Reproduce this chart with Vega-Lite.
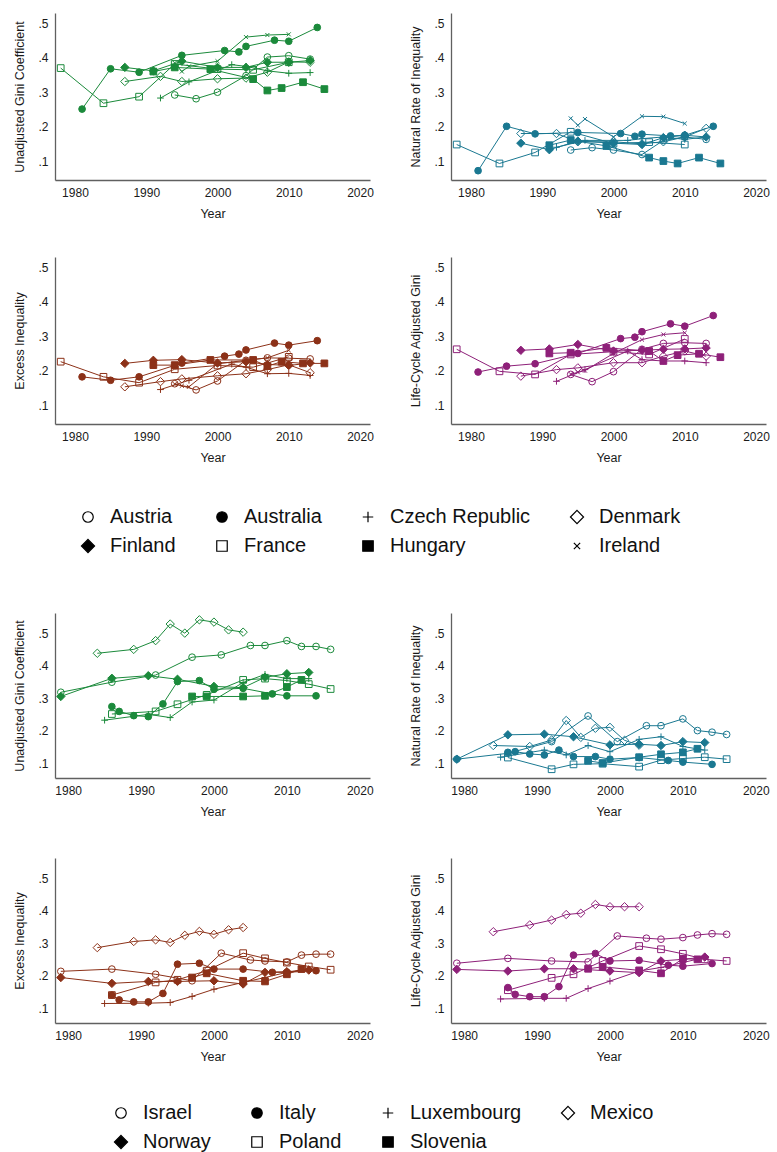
{
"$schema":"https://vega.github.io/schema/vega-lite/v6.json",
"padding":{"left":13,"top":13,"right":4,"bottom":4},
"background":"white",
"datasets":{
"g1":[
{"c":"Austria","yr":1994,"u":0.292,"n":0.132,"e":0.162,"l":0.189},
{"c":"Austria","yr":1997,"u":0.281,"n":0.139,"e":0.144,"l":0.168},
{"c":"Austria","yr":2000,"u":0.300,"n":0.132,"e":0.170,"l":0.197},
{"c":"Austria","yr":2004,"u":0.348,"n":0.119,"e":0.230,"l":0.262},
{"c":"Austria","yr":2007,"u":0.402,"n":0.160,"e":0.237,"l":0.279},
{"c":"Austria","yr":2010,"u":0.406,"n":0.170,"e":0.236,"l":0.281},
{"c":"Austria","yr":2013,"u":0.396,"n":0.163,"e":0.234,"l":0.279},
{"c":"Australia","yr":1981,"u":0.251,"n":0.072,"e":0.182,"l":0.196},
{"c":"Australia","yr":1985,"u":0.368,"n":0.201,"e":0.172,"l":0.213},
{"c":"Australia","yr":1989,"u":0.358,"n":0.179,"e":0.182,"l":0.220},
{"c":"Australia","yr":1995,"u":0.407,"n":0.183,"e":0.222,"l":0.250},
{"c":"Australia","yr":2001,"u":0.421,"n":0.180,"e":0.242,"l":0.293},
{"c":"Australia","yr":2003,"u":0.417,"n":0.172,"e":0.248,"l":0.297},
{"c":"Australia","yr":2004,"u":0.433,"n":0.178,"e":0.260,"l":0.313},
{"c":"Australia","yr":2008,"u":0.451,"n":0.173,"e":0.280,"l":0.336},
{"c":"Australia","yr":2010,"u":0.448,"n":0.175,"e":0.274,"l":0.329},
{"c":"Australia","yr":2014,"u":0.488,"n":0.201,"e":0.287,"l":0.360},
{"c":"Czech Republic","yr":1992,"u":0.283,"n":0.140,"e":0.145,"l":0.169},
{"c":"Czech Republic","yr":1996,"u":0.330,"n":0.160,"e":0.172,"l":0.203},
{"c":"Czech Republic","yr":2002,"u":0.380,"n":0.160,"e":0.219,"l":0.257},
{"c":"Czech Republic","yr":2004,"u":0.375,"n":0.165,"e":0.210,"l":0.232},
{"c":"Czech Republic","yr":2007,"u":0.362,"n":0.170,"e":0.191,"l":0.228},
{"c":"Czech Republic","yr":2010,"u":0.355,"n":0.163,"e":0.192,"l":0.228},
{"c":"Czech Republic","yr":2013,"u":0.357,"n":0.170,"e":0.186,"l":0.223},
{"c":"Denmark","yr":1987,"u":0.331,"n":0.180,"e":0.153,"l":0.184},
{"c":"Denmark","yr":1992,"u":0.346,"n":0.180,"e":0.168,"l":0.203},
{"c":"Denmark","yr":1995,"u":0.331,"n":0.156,"e":0.176,"l":0.208},
{"c":"Denmark","yr":2000,"u":0.339,"n":0.156,"e":0.185,"l":0.223},
{"c":"Denmark","yr":2004,"u":0.341,"n":0.150,"e":0.191,"l":0.223},
{"c":"Denmark","yr":2007,"u":0.358,"n":0.156,"e":0.203,"l":0.242},
{"c":"Denmark","yr":2010,"u":0.388,"n":0.170,"e":0.217,"l":0.257},
{"c":"Denmark","yr":2013,"u":0.387,"n":0.195,"e":0.194,"l":0.242},
{"c":"Finland","yr":1987,"u":0.372,"n":0.152,"e":0.221,"l":0.259},
{"c":"Finland","yr":1991,"u":0.362,"n":0.133,"e":0.230,"l":0.263},
{"c":"Finland","yr":1995,"u":0.390,"n":0.158,"e":0.232,"l":0.276},
{"c":"Finland","yr":2000,"u":0.372,"n":0.152,"e":0.222,"l":0.257},
{"c":"Finland","yr":2004,"u":0.372,"n":0.148,"e":0.226,"l":0.259},
{"c":"Finland","yr":2007,"u":0.387,"n":0.168,"e":0.218,"l":0.262},
{"c":"Finland","yr":2010,"u":0.387,"n":0.175,"e":0.215,"l":0.263},
{"c":"Finland","yr":2013,"u":0.392,"n":0.170,"e":0.222,"l":0.266},
{"c":"France","yr":1978,"u":0.370,"n":0.148,"e":0.226,"l":0.262},
{"c":"France","yr":1984,"u":0.268,"n":0.093,"e":0.182,"l":0.198},
{"c":"France","yr":1989,"u":0.287,"n":0.125,"e":0.165,"l":0.189},
{"c":"France","yr":1994,"u":0.382,"n":0.185,"e":0.204,"l":0.247},
{"c":"France","yr":2000,"u":0.367,"n":0.151,"e":0.215,"l":0.255},
{"c":"France","yr":2005,"u":0.365,"n":0.155,"e":0.210,"l":0.247},
{"c":"France","yr":2010,"u":0.387,"n":0.148,"e":0.240,"l":0.292},
{"c":"Hungary","yr":1991,"u":0.360,"n":0.146,"e":0.216,"l":0.250},
{"c":"Hungary","yr":1994,"u":0.372,"n":0.161,"e":0.216,"l":0.252},
{"c":"Hungary","yr":1999,"u":0.367,"n":0.144,"e":0.231,"l":0.266},
{"c":"Hungary","yr":2005,"u":0.338,"n":0.110,"e":0.231,"l":0.257},
{"c":"Hungary","yr":2007,"u":0.305,"n":0.100,"e":0.213,"l":0.228},
{"c":"Hungary","yr":2009,"u":0.312,"n":0.093,"e":0.226,"l":0.245},
{"c":"Hungary","yr":2012,"u":0.329,"n":0.110,"e":0.221,"l":0.249},
{"c":"Hungary","yr":2015,"u":0.309,"n":0.093,"e":0.221,"l":0.239},
{"c":"Ireland","yr":1994,"u":0.385,"n":0.224,"e":0.161,"l":0.190},
{"c":"Ireland","yr":1995,"u":0.360,"n":0.204,"e":0.156,"l":0.195},
{"c":"Ireland","yr":1996,"u":0.375,"n":0.222,"e":0.153,"l":0.200},
{"c":"Ireland","yr":2000,"u":0.390,"n":0.170,"e":0.220,"l":0.250},
{"c":"Ireland","yr":2004,"u":0.460,"n":0.230,"e":0.230,"l":0.290},
{"c":"Ireland","yr":2007,"u":0.466,"n":0.229,"e":0.237,"l":0.305},
{"c":"Ireland","yr":2010,"u":0.468,"n":0.209,"e":0.259,"l":0.310}
],
"g2":[
{"c":"Israel","yr":1979,"u":0.318,"n":0.112,"e":0.213,"l":0.238},
{"c":"Israel","yr":1986,"u":0.349,"n":0.130,"e":0.220,"l":0.253},
{"c":"Israel","yr":1992,"u":0.371,"n":0.166,"e":0.204,"l":0.245},
{"c":"Israel","yr":1997,"u":0.426,"n":0.245,"e":0.184,"l":0.242},
{"c":"Israel","yr":2001,"u":0.433,"n":0.166,"e":0.269,"l":0.322},
{"c":"Israel","yr":2005,"u":0.462,"n":0.215,"e":0.248,"l":0.315},
{"c":"Israel","yr":2007,"u":0.462,"n":0.215,"e":0.245,"l":0.312},
{"c":"Israel","yr":2010,"u":0.477,"n":0.236,"e":0.242,"l":0.317},
{"c":"Israel","yr":2012,"u":0.459,"n":0.200,"e":0.263,"l":0.325},
{"c":"Israel","yr":2014,"u":0.459,"n":0.195,"e":0.266,"l":0.329},
{"c":"Israel","yr":2016,"u":0.450,"n":0.188,"e":0.266,"l":0.327},
{"c":"Italy","yr":1986,"u":0.274,"n":0.133,"e":0.140,"l":0.163},
{"c":"Italy","yr":1987,"u":0.259,"n":0.135,"e":0.125,"l":0.142},
{"c":"Italy","yr":1989,"u":0.246,"n":0.128,"e":0.119,"l":0.135},
{"c":"Italy","yr":1991,"u":0.243,"n":0.125,"e":0.119,"l":0.135},
{"c":"Italy","yr":1993,"u":0.282,"n":0.140,"e":0.145,"l":0.166},
{"c":"Italy","yr":1995,"u":0.351,"n":0.120,"e":0.235,"l":0.263},
{"c":"Italy","yr":1998,"u":0.354,"n":0.120,"e":0.238,"l":0.268},
{"c":"Italy","yr":2000,"u":0.327,"n":0.112,"e":0.220,"l":0.245},
{"c":"Italy","yr":2004,"u":0.330,"n":0.117,"e":0.220,"l":0.247},
{"c":"Italy","yr":2008,"u":0.313,"n":0.108,"e":0.210,"l":0.232},
{"c":"Italy","yr":2010,"u":0.307,"n":0.103,"e":0.210,"l":0.229},
{"c":"Italy","yr":2014,"u":0.307,"n":0.096,"e":0.215,"l":0.237},
{"c":"Luxembourg","yr":1985,"u":0.232,"n":0.118,"e":0.114,"l":0.128},
{"c":"Luxembourg","yr":1991,"u":0.250,"n":0.140,"e":0.115,"l":0.130},
{"c":"Luxembourg","yr":1994,"u":0.240,"n":0.125,"e":0.117,"l":0.130},
{"c":"Luxembourg","yr":1997,"u":0.288,"n":0.154,"e":0.136,"l":0.160},
{"c":"Luxembourg","yr":2000,"u":0.294,"n":0.135,"e":0.158,"l":0.183},
{"c":"Luxembourg","yr":2004,"u":0.348,"n":0.173,"e":0.179,"l":0.214},
{"c":"Luxembourg","yr":2007,"u":0.373,"n":0.181,"e":0.194,"l":0.225},
{"c":"Luxembourg","yr":2010,"u":0.360,"n":0.151,"e":0.210,"l":0.240},
{"c":"Luxembourg","yr":2013,"u":0.360,"n":0.140,"e":0.220,"l":0.256},
{"c":"Mexico","yr":1984,"u":0.438,"n":0.154,"e":0.286,"l":0.335},
{"c":"Mexico","yr":1989,"u":0.450,"n":0.151,"e":0.305,"l":0.356},
{"c":"Mexico","yr":1992,"u":0.477,"n":0.171,"e":0.310,"l":0.371},
{"c":"Mexico","yr":1994,"u":0.528,"n":0.231,"e":0.302,"l":0.388},
{"c":"Mexico","yr":1996,"u":0.500,"n":0.179,"e":0.324,"l":0.392},
{"c":"Mexico","yr":1998,"u":0.541,"n":0.207,"e":0.336,"l":0.419},
{"c":"Mexico","yr":2000,"u":0.534,"n":0.210,"e":0.327,"l":0.412},
{"c":"Mexico","yr":2002,"u":0.510,"n":0.170,"e":0.341,"l":0.412},
{"c":"Mexico","yr":2004,"u":0.503,"n":0.155,"e":0.348,"l":0.412},
{"c":"Norway","yr":1979,"u":0.305,"n":0.112,"e":0.194,"l":0.219},
{"c":"Norway","yr":1986,"u":0.361,"n":0.187,"e":0.176,"l":0.214},
{"c":"Norway","yr":1991,"u":0.369,"n":0.189,"e":0.182,"l":0.221},
{"c":"Norway","yr":1995,"u":0.358,"n":0.181,"e":0.182,"l":0.221},
{"c":"Norway","yr":2000,"u":0.336,"n":0.156,"e":0.184,"l":0.214},
{"c":"Norway","yr":2004,"u":0.332,"n":0.158,"e":0.174,"l":0.209},
{"c":"Norway","yr":2007,"u":0.364,"n":0.154,"e":0.210,"l":0.245},
{"c":"Norway","yr":2010,"u":0.375,"n":0.166,"e":0.212,"l":0.250},
{"c":"Norway","yr":2013,"u":0.379,"n":0.163,"e":0.217,"l":0.257},
{"c":"Poland","yr":1986,"u":0.251,"n":0.117,"e":0.140,"l":0.155},
{"c":"Poland","yr":1992,"u":0.259,"n":0.081,"e":0.179,"l":0.193},
{"c":"Poland","yr":1995,"u":0.281,"n":0.096,"e":0.187,"l":0.204},
{"c":"Poland","yr":1999,"u":0.310,"n":0.098,"e":0.215,"l":0.245},
{"c":"Poland","yr":2004,"u":0.356,"n":0.089,"e":0.269,"l":0.291},
{"c":"Poland","yr":2007,"u":0.360,"n":0.109,"e":0.253,"l":0.281},
{"c":"Poland","yr":2010,"u":0.354,"n":0.114,"e":0.240,"l":0.267},
{"c":"Poland","yr":2013,"u":0.343,"n":0.118,"e":0.228,"l":0.250},
{"c":"Poland","yr":2016,"u":0.328,"n":0.112,"e":0.218,"l":0.245},
{"c":"Slovenia","yr":1997,"u":0.305,"n":0.107,"e":0.194,"l":0.221},
{"c":"Slovenia","yr":1999,"u":0.305,"n":0.100,"e":0.207,"l":0.227},
{"c":"Slovenia","yr":2004,"u":0.305,"n":0.118,"e":0.184,"l":0.216},
{"c":"Slovenia","yr":2007,"u":0.307,"n":0.127,"e":0.182,"l":0.207},
{"c":"Slovenia","yr":2010,"u":0.334,"n":0.133,"e":0.204,"l":0.252},
{"c":"Slovenia","yr":2012,"u":0.356,"n":0.144,"e":0.220,"l":0.250}
]},
"vconcat":[
{"vconcat":[
 {"hconcat":[
  {"width":315,"height":167,"data":{"name":"g1"},
   "encoding":{"x":{"field":"yr","type":"quantitative","scale":{"domain":[1977.2,2021.4],"nice":false,"zero":false},"axis":{"values":[1980,1990,2000,2010,2020],"format":"d","title":"Year","labelFlush":false}},
     "y":{"field":"u","type":"quantitative","scale":{"domain":[0.045,0.53],"nice":false,"zero":false},"axis":{"values":[0.1,0.2,0.3,0.4,0.5],"labelExpr":"replace(format(datum.value,'.1f'),'0.','.')","title":"Unadjusted Gini Coefficient"}}},
   "layer":[
    {"mark":{"type":"point","filled":true,"size":45,"strokeWidth":1.2,"opacity":0},
     "encoding":{"shape":{"field":"c","type":"nominal","scale":{"domain":["Austria","Australia","Czech Republic","Denmark","Finland","France","Hungary","Ireland"],"range":["circle","circle","M-1,0L1,0M0,-1L0,1","M0,-1.25L1.25,0L0,1.25L-1.25,0Z","M0,-1.25L1.25,0L0,1.25L-1.25,0Z","square","square","M-0.6,-0.6L0.6,0.6M-0.6,0.6L0.6,-0.6"]},
       "legend":{"title":null,"orient":"none","direction":"horizontal","legendX":23,"legendY":494,"columns":4,"symbolStrokeWidth":1.2,"symbolOpacity":1,"symbolSize":110}},
      "fill":{"field":"c","type":"nominal","scale":{"domain":["Austria","Australia","Czech Republic","Denmark","Finland","France","Hungary","Ireland"],"range":["transparent","black","transparent","transparent","black","transparent","black","transparent"]},
       "legend":{"title":null,"orient":"none","direction":"horizontal","legendX":23,"legendY":494,"columns":4,"symbolStrokeWidth":1.2,"symbolOpacity":1,"symbolSize":110}},
      "stroke":{"field":"c","type":"nominal","scale":{"domain":["Austria","Australia","Czech Republic","Denmark","Finland","France","Hungary","Ireland"],"range":["black","black","black","black","black","black","black","black"]},
       "legend":{"title":null,"orient":"none","direction":"horizontal","legendX":23,"legendY":494,"columns":4,"symbolStrokeWidth":1.2,"symbolOpacity":1,"symbolSize":110}}}},
    {"mark":{"type":"line","color":"#1b8a3b","strokeWidth":1},"encoding":{"detail":{"field":"c","type":"nominal"}}},
    {"mark":{"type":"point","filled":true,"size":45,"stroke":"#1b8a3b","strokeWidth":1,"opacity":1},
     "encoding":{"shape":{"field":"c","type":"nominal","scale":{"domain":["Austria","Australia","Czech Republic","Denmark","Finland","France","Hungary","Ireland"],"range":["circle","circle","M-1,0L1,0M0,-1L0,1","M0,-1.25L1.25,0L0,1.25L-1.25,0Z","M0,-1.25L1.25,0L0,1.25L-1.25,0Z","square","square","M-0.6,-0.6L0.6,0.6M-0.6,0.6L0.6,-0.6"]},"legend":null},
      "fill":{"condition":{"test":"indexof(['Australia','Finland','Hungary','Italy','Norway','Slovenia'], datum.c) >= 0","value":"#1b8a3b"},"value":"transparent"}}}
   ]},
  {"width":315,"height":167,"data":{"name":"g1"},
   "encoding":{"x":{"field":"yr","type":"quantitative","scale":{"domain":[1977.2,2021.4],"nice":false,"zero":false},"axis":{"values":[1980,1990,2000,2010,2020],"format":"d","title":"Year","labelFlush":false}},
     "y":{"field":"n","type":"quantitative","scale":{"domain":[0.045,0.53],"nice":false,"zero":false},"axis":{"values":[0.1,0.2,0.3,0.4,0.5],"labelExpr":"replace(format(datum.value,'.1f'),'0.','.')","title":"Natural Rate of Inequality"}}},
   "layer":[
    {"mark":{"type":"line","color":"#1a7891","strokeWidth":1},"encoding":{"detail":{"field":"c","type":"nominal"}}},
    {"mark":{"type":"point","filled":true,"size":45,"stroke":"#1a7891","strokeWidth":1,"opacity":1},
     "encoding":{"shape":{"field":"c","type":"nominal","scale":{"domain":["Austria","Australia","Czech Republic","Denmark","Finland","France","Hungary","Ireland"],"range":["circle","circle","M-1,0L1,0M0,-1L0,1","M0,-1.25L1.25,0L0,1.25L-1.25,0Z","M0,-1.25L1.25,0L0,1.25L-1.25,0Z","square","square","M-0.6,-0.6L0.6,0.6M-0.6,0.6L0.6,-0.6"]},"legend":null},
      "fill":{"condition":{"test":"indexof(['Australia','Finland','Hungary','Italy','Norway','Slovenia'], datum.c) >= 0","value":"#1a7891"},"value":"transparent"}}}
   ]}
 ],"spacing":35},
 {"hconcat":[
  {"width":315,"height":167,"data":{"name":"g1"},
   "encoding":{"x":{"field":"yr","type":"quantitative","scale":{"domain":[1977.2,2021.4],"nice":false,"zero":false},"axis":{"values":[1980,1990,2000,2010,2020],"format":"d","title":"Year","labelFlush":false}},
     "y":{"field":"e","type":"quantitative","scale":{"domain":[0.045,0.53],"nice":false,"zero":false},"axis":{"values":[0.1,0.2,0.3,0.4,0.5],"labelExpr":"replace(format(datum.value,'.1f'),'0.','.')","title":"Excess Inequality"}}},
   "layer":[
    {"mark":{"type":"line","color":"#8c3118","strokeWidth":1},"encoding":{"detail":{"field":"c","type":"nominal"}}},
    {"mark":{"type":"point","filled":true,"size":45,"stroke":"#8c3118","strokeWidth":1,"opacity":1},
     "encoding":{"shape":{"field":"c","type":"nominal","scale":{"domain":["Austria","Australia","Czech Republic","Denmark","Finland","France","Hungary","Ireland"],"range":["circle","circle","M-1,0L1,0M0,-1L0,1","M0,-1.25L1.25,0L0,1.25L-1.25,0Z","M0,-1.25L1.25,0L0,1.25L-1.25,0Z","square","square","M-0.6,-0.6L0.6,0.6M-0.6,0.6L0.6,-0.6"]},"legend":null},
      "fill":{"condition":{"test":"indexof(['Australia','Finland','Hungary','Italy','Norway','Slovenia'], datum.c) >= 0","value":"#8c3118"},"value":"transparent"}}}
   ]},
  {"width":315,"height":167,"data":{"name":"g1"},
   "encoding":{"x":{"field":"yr","type":"quantitative","scale":{"domain":[1977.2,2021.4],"nice":false,"zero":false},"axis":{"values":[1980,1990,2000,2010,2020],"format":"d","title":"Year","labelFlush":false}},
     "y":{"field":"l","type":"quantitative","scale":{"domain":[0.045,0.53],"nice":false,"zero":false},"axis":{"values":[0.1,0.2,0.3,0.4,0.5],"labelExpr":"replace(format(datum.value,'.1f'),'0.','.')","title":"Life-Cycle Adjusted Gini"}}},
   "layer":[
    {"mark":{"type":"line","color":"#8e2079","strokeWidth":1},"encoding":{"detail":{"field":"c","type":"nominal"}}},
    {"mark":{"type":"point","filled":true,"size":45,"stroke":"#8e2079","strokeWidth":1,"opacity":1},
     "encoding":{"shape":{"field":"c","type":"nominal","scale":{"domain":["Austria","Australia","Czech Republic","Denmark","Finland","France","Hungary","Ireland"],"range":["circle","circle","M-1,0L1,0M0,-1L0,1","M0,-1.25L1.25,0L0,1.25L-1.25,0Z","M0,-1.25L1.25,0L0,1.25L-1.25,0Z","square","square","M-0.6,-0.6L0.6,0.6M-0.6,0.6L0.6,-0.6"]},"legend":null},
      "fill":{"condition":{"test":"indexof(['Australia','Finland','Hungary','Italy','Norway','Slovenia'], datum.c) >= 0","value":"#8e2079"},"value":"transparent"}}}
   ]}
 ],"spacing":35}
],"spacing":37},
{"vconcat":[
 {"hconcat":[
  {"width":315,"height":165,"data":{"name":"g2"},
   "encoding":{"x":{"field":"yr","type":"quantitative","scale":{"domain":[1978.2,2021.4],"nice":false,"zero":false},"axis":{"values":[1980,1990,2000,2010,2020],"format":"d","title":"Year","labelFlush":false}},
     "y":{"field":"u","type":"quantitative","scale":{"domain":[0.054,0.562],"nice":false,"zero":false},"axis":{"values":[0.1,0.2,0.3,0.4,0.5],"labelExpr":"replace(format(datum.value,'.1f'),'0.','.')","title":"Unadjusted Gini Coefficient"}}},
   "layer":[
    {"mark":{"type":"point","filled":true,"size":45,"strokeWidth":1.2,"opacity":0},
     "encoding":{"shape":{"field":"c","type":"nominal","scale":{"domain":["Israel","Italy","Luxembourg","Mexico","Norway","Poland","Slovenia"],"range":["circle","circle","M-1,0L1,0M0,-1L0,1","M0,-1.25L1.25,0L0,1.25L-1.25,0Z","M0,-1.25L1.25,0L0,1.25L-1.25,0Z","square","square"]},
       "legend":{"title":null,"orient":"none","direction":"horizontal","legendX":56,"legendY":490,"columns":4,"symbolStrokeWidth":1.2,"symbolOpacity":1,"symbolSize":110}},
      "fill":{"field":"c","type":"nominal","scale":{"domain":["Israel","Italy","Luxembourg","Mexico","Norway","Poland","Slovenia"],"range":["transparent","black","transparent","transparent","black","transparent","black"]},
       "legend":{"title":null,"orient":"none","direction":"horizontal","legendX":56,"legendY":490,"columns":4,"symbolStrokeWidth":1.2,"symbolOpacity":1,"symbolSize":110}},
      "stroke":{"field":"c","type":"nominal","scale":{"domain":["Israel","Italy","Luxembourg","Mexico","Norway","Poland","Slovenia"],"range":["black","black","black","black","black","black","black"]},
       "legend":{"title":null,"orient":"none","direction":"horizontal","legendX":56,"legendY":490,"columns":4,"symbolStrokeWidth":1.2,"symbolOpacity":1,"symbolSize":110}}}},
    {"mark":{"type":"line","color":"#1b8a3b","strokeWidth":1},"encoding":{"detail":{"field":"c","type":"nominal"}}},
    {"mark":{"type":"point","filled":true,"size":45,"stroke":"#1b8a3b","strokeWidth":1,"opacity":1},
     "encoding":{"shape":{"field":"c","type":"nominal","scale":{"domain":["Israel","Italy","Luxembourg","Mexico","Norway","Poland","Slovenia"],"range":["circle","circle","M-1,0L1,0M0,-1L0,1","M0,-1.25L1.25,0L0,1.25L-1.25,0Z","M0,-1.25L1.25,0L0,1.25L-1.25,0Z","square","square"]},"legend":null},
      "fill":{"condition":{"test":"indexof(['Australia','Finland','Hungary','Italy','Norway','Slovenia'], datum.c) >= 0","value":"#1b8a3b"},"value":"transparent"}}}
   ]},
  {"width":315,"height":165,"data":{"name":"g2"},
   "encoding":{"x":{"field":"yr","type":"quantitative","scale":{"domain":[1978.2,2021.4],"nice":false,"zero":false},"axis":{"values":[1980,1990,2000,2010,2020],"format":"d","title":"Year","labelFlush":false}},
     "y":{"field":"n","type":"quantitative","scale":{"domain":[0.054,0.562],"nice":false,"zero":false},"axis":{"values":[0.1,0.2,0.3,0.4,0.5],"labelExpr":"replace(format(datum.value,'.1f'),'0.','.')","title":"Natural Rate of Inequality"}}},
   "layer":[
    {"mark":{"type":"line","color":"#1a7891","strokeWidth":1},"encoding":{"detail":{"field":"c","type":"nominal"}}},
    {"mark":{"type":"point","filled":true,"size":45,"stroke":"#1a7891","strokeWidth":1,"opacity":1},
     "encoding":{"shape":{"field":"c","type":"nominal","scale":{"domain":["Israel","Italy","Luxembourg","Mexico","Norway","Poland","Slovenia"],"range":["circle","circle","M-1,0L1,0M0,-1L0,1","M0,-1.25L1.25,0L0,1.25L-1.25,0Z","M0,-1.25L1.25,0L0,1.25L-1.25,0Z","square","square"]},"legend":null},
      "fill":{"condition":{"test":"indexof(['Australia','Finland','Hungary','Italy','Norway','Slovenia'], datum.c) >= 0","value":"#1a7891"},"value":"transparent"}}}
   ]}
 ],"spacing":35},
 {"hconcat":[
  {"width":315,"height":165,"data":{"name":"g2"},
   "encoding":{"x":{"field":"yr","type":"quantitative","scale":{"domain":[1978.2,2021.4],"nice":false,"zero":false},"axis":{"values":[1980,1990,2000,2010,2020],"format":"d","title":"Year","labelFlush":false}},
     "y":{"field":"e","type":"quantitative","scale":{"domain":[0.054,0.562],"nice":false,"zero":false},"axis":{"values":[0.1,0.2,0.3,0.4,0.5],"labelExpr":"replace(format(datum.value,'.1f'),'0.','.')","title":"Excess Inequality"}}},
   "layer":[
    {"mark":{"type":"line","color":"#8c3118","strokeWidth":1},"encoding":{"detail":{"field":"c","type":"nominal"}}},
    {"mark":{"type":"point","filled":true,"size":45,"stroke":"#8c3118","strokeWidth":1,"opacity":1},
     "encoding":{"shape":{"field":"c","type":"nominal","scale":{"domain":["Israel","Italy","Luxembourg","Mexico","Norway","Poland","Slovenia"],"range":["circle","circle","M-1,0L1,0M0,-1L0,1","M0,-1.25L1.25,0L0,1.25L-1.25,0Z","M0,-1.25L1.25,0L0,1.25L-1.25,0Z","square","square"]},"legend":null},
      "fill":{"condition":{"test":"indexof(['Australia','Finland','Hungary','Italy','Norway','Slovenia'], datum.c) >= 0","value":"#8c3118"},"value":"transparent"}}}
   ]},
  {"width":315,"height":165,"data":{"name":"g2"},
   "encoding":{"x":{"field":"yr","type":"quantitative","scale":{"domain":[1978.2,2021.4],"nice":false,"zero":false},"axis":{"values":[1980,1990,2000,2010,2020],"format":"d","title":"Year","labelFlush":false}},
     "y":{"field":"l","type":"quantitative","scale":{"domain":[0.054,0.562],"nice":false,"zero":false},"axis":{"values":[0.1,0.2,0.3,0.4,0.5],"labelExpr":"replace(format(datum.value,'.1f'),'0.','.')","title":"Life-Cycle Adjusted Gini"}}},
   "layer":[
    {"mark":{"type":"line","color":"#8e2079","strokeWidth":1},"encoding":{"detail":{"field":"c","type":"nominal"}}},
    {"mark":{"type":"point","filled":true,"size":45,"stroke":"#8e2079","strokeWidth":1,"opacity":1},
     "encoding":{"shape":{"field":"c","type":"nominal","scale":{"domain":["Israel","Italy","Luxembourg","Mexico","Norway","Poland","Slovenia"],"range":["circle","circle","M-1,0L1,0M0,-1L0,1","M0,-1.25L1.25,0L0,1.25L-1.25,0Z","M0,-1.25L1.25,0L0,1.25L-1.25,0Z","square","square"]},"legend":null},
      "fill":{"condition":{"test":"indexof(['Australia','Finland','Hungary','Italy','Norway','Slovenia'], datum.c) >= 0","value":"#8e2079"},"value":"transparent"}}}
   ]}
 ],"spacing":35}
],"spacing":40}
],
"spacing":57,
"resolve":{"scale":{"shape":"independent","fill":"independent","stroke":"independent"},"legend":{"shape":"independent","fill":"independent","stroke":"independent"}},
"config":{
 "view":{"stroke":null},
 "font":"Liberation Sans",
 "axis":{"grid":false,"ticks":false,"domainColor":"#606060","domainWidth":1.3,"labelFont":"Liberation Sans","labelFontSize":12,"labelColor":"#1a1a1a","titleFont":"Liberation Sans","titleFontSize":12.5,"titleFontWeight":"normal","titleColor":"#1a1a1a","labelPadding":7,"labelOverlap":false},
 "axisX":{"titlePadding":9},
 "axisY":{"titlePadding":11},
 "legend":{"labelFont":"Liberation Sans","labelFontSize":20,"labelColor":"#111111","columnPadding":36,"rowPadding":9,"labelOffset":12,"symbolSize":110}
}
}
